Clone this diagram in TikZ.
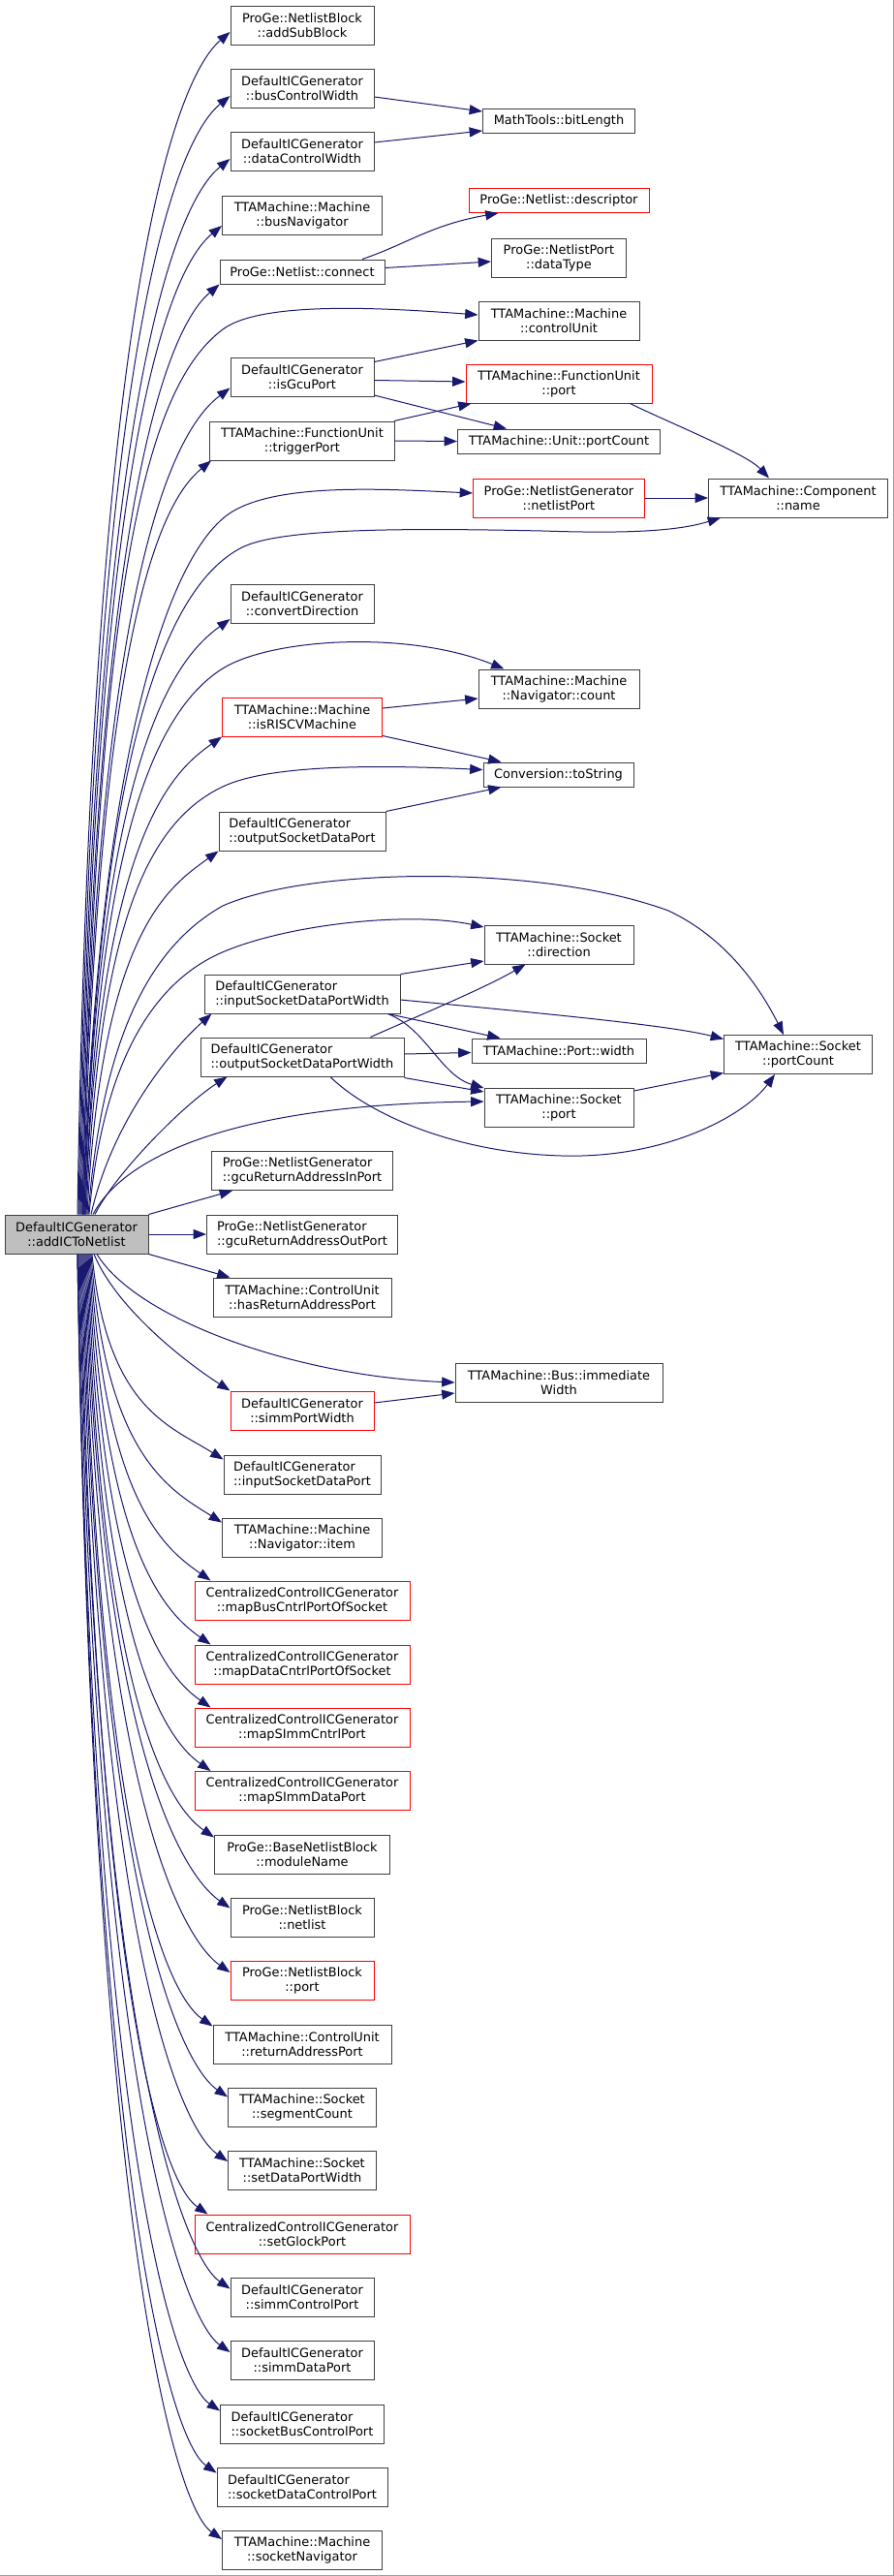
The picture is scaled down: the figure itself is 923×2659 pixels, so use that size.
\documentclass[tikz,border=0pt]{standalone}
\usepackage{fontspec}
\newfontfamily\dvfont{DejaVu Sans}
\usetikzlibrary{arrows.meta,calc}
\definecolor{edgeblue}{HTML}{191970}
\definecolor{boxgray}{HTML}{404040}
\definecolor{rootfill}{HTML}{BFBFBF}
\definecolor{framegray}{HTML}{A0A0A0}
\begin{document}
\begin{tikzpicture}[x=0.75pt,y=-0.75pt,
 fn/.style={draw=boxgray, fill=white, line width=0.75pt, inner sep=2pt, minimum height=30pt, align=center, font=\dvfont\fontsize{9.7}{11.25}\selectfont},
 one/.style={minimum height=18.75pt},
 lft/.style={align=left},
 trunc/.style={draw=red},
 bw/.style={minimum width=#1*0.75pt},
 ed/.style={draw=edgeblue, line width=0.75pt, -{Triangle[length=10pt,width=7.5pt]}},
]
\useasboundingbox (0,0) rectangle (923,2659);
\fill[white] (0,0) rectangle (923,2659);
\draw[framegray, line width=0.75pt] (922.5,0) -- (922.5,2658.5) -- (0,2658.5);

% root
\node[fn, fill=rootfill, bw=148] (root) at (79,1274) {DefaultICGenerator\\::addICToNetlist};
% middle column
\node[fn,bw=148] (asb) at (312,26) {ProGe::NetlistBlock\\::addSubBlock};
\node[fn,bw=148] (bcw) at (312,91) {DefaultICGenerator\\::busControlWidth};
\node[fn,bw=148] (dcw) at (312,156) {DefaultICGenerator\\::dataControlWidth};
\node[fn,bw=165] (bnav) at (312,222) {TTAMachine::Machine\\::busNavigator};
\node[fn,one,bw=170] (conn) at (312,280.5) {ProGe::Netlist::connect};
\node[fn,bw=148] (igp) at (312,389.5) {DefaultICGenerator\\::isGcuPort};
\node[fn,bw=191] (trig) at (312,455) {TTAMachine::FunctionUnit\\::triggerPort};
\node[fn,bw=148] (cdir) at (312,623) {DefaultICGenerator\\::convertDirection};
\node[fn,trunc,bw=165] (risc) at (312,740) {TTAMachine::Machine\\::isRISCVMachine};
\node[fn,lft,bw=172] (osdp) at (312,858) {DefaultICGenerator\\::outputSocketDataPort};
\node[fn,lft,bw=202] (isdpw) at (312,1026) {DefaultICGenerator\\::inputSocketDataPortWidth};
\node[fn,lft,bw=210] (osdpw) at (312,1091) {DefaultICGenerator\\::outputSocketDataPortWidth};
\node[fn,lft,bw=187] (grin) at (312,1208.5) {ProGe::NetlistGenerator\\::gcuReturnAddressInPort};
\node[fn,lft,bw=197] (grout) at (312,1274) {ProGe::NetlistGenerator\\::gcuReturnAddressOutPort};
\node[fn,bw=184] (hrap) at (312,1339) {TTAMachine::ControlUnit\\::hasReturnAddressPort};
\node[fn,trunc,bw=148] (spw) at (312,1456) {DefaultICGenerator\\::simmPortWidth};
\node[fn,lft,bw=162] (isdp) at (312,1522) {DefaultICGenerator\\::inputSocketDataPort};
\node[fn,bw=165] (nitem) at (312,1587) {TTAMachine::Machine\\::Navigator::item};
\node[fn,trunc,bw=222] (mbc) at (312,1652) {CentralizedControlICGenerator\\::mapBusCntrlPortOfSocket};
\node[fn,trunc,bw=222] (mdc) at (312,1718) {CentralizedControlICGenerator\\::mapDataCntrlPortOfSocket};
\node[fn,trunc,bw=222] (msc) at (312,1783) {CentralizedControlICGenerator\\::mapSImmCntrlPort};
\node[fn,trunc,bw=222] (msd) at (312,1848.5) {CentralizedControlICGenerator\\::mapSImmDataPort};
\node[fn,bw=181] (mname) at (312,1914) {ProGe::BaseNetlistBlock\\::moduleName};
\node[fn,bw=148] (nlist) at (312,1979) {ProGe::NetlistBlock\\::netlist};
\node[fn,trunc,bw=148] (nbport) at (312,2044.5) {ProGe::NetlistBlock\\::port};
\node[fn,bw=184] (rap) at (312,2110) {TTAMachine::ControlUnit\\::returnAddressPort};
\node[fn,bw=153] (segc) at (312,2175) {TTAMachine::Socket\\::segmentCount};
\node[fn,bw=153] (sdpw) at (312,2240.5) {TTAMachine::Socket\\::setDataPortWidth};
\node[fn,trunc,bw=222] (sgp) at (312,2306) {CentralizedControlICGenerator\\::setGlockPort};
\node[fn,bw=148] (scp) at (312,2371) {DefaultICGenerator\\::simmControlPort};
\node[fn,bw=148] (sdp) at (312,2436.5) {DefaultICGenerator\\::simmDataPort};
\node[fn,lft,bw=169] (sbcp) at (312,2502) {DefaultICGenerator\\::socketBusControlPort};
\node[fn,lft,bw=176] (sdcp) at (312,2567) {DefaultICGenerator\\::socketDataControlPort};
\node[fn,bw=165] (snav) at (312,2632.5) {TTAMachine::Machine\\::socketNavigator};
% right columns
\node[fn,one,bw=157] (bitl) at (577,124.5) {MathTools::bitLength};
\node[fn,one,trunc,bw=186] (desc) at (577,207) {ProGe::Netlist::descriptor};
\node[fn,bw=139] (dtype) at (577,266) {ProGe::NetlistPort\\::dataType};
\node[fn,bw=166] (cu) at (577,331) {TTAMachine::Machine\\::controlUnit};
\node[fn,trunc,bw=192] (fup) at (577,396) {TTAMachine::FunctionUnit\\::port};
\node[fn,one,bw=209] (upc) at (577,455.5) {TTAMachine::Unit::portCount};
\node[fn,trunc,bw=177] (nlp) at (577,514) {ProGe::NetlistGenerator\\::netlistPort};
\node[fn,bw=185] (cname) at (824,514) {TTAMachine::Component\\::name};
\node[fn,bw=166] (ncount) at (577,711) {TTAMachine::Machine\\::Navigator::count};
\node[fn,one,bw=155] (tostr) at (576.5,799.5) {Conversion::toString};
\node[fn,bw=154] (sdir) at (577,975) {TTAMachine::Socket\\::direction};
\node[fn,one,bw=180] (pwidth) at (577,1084.5) {TTAMachine::Port::width};
\node[fn,bw=154] (sport) at (577,1143) {TTAMachine::Socket\\::port};
\node[fn,bw=153] (spc) at (824,1088.5) {TTAMachine::Socket\\::portCount};
\node[fn,bw=214] (imw) at (577,1427) {TTAMachine::Bus::immediate\\Width};

% root edges, upward
\draw[ed] ($(root.north)+(1,0)$) .. controls (95,280) and (185,78) .. ($(asb.west)+(0,7)$);
\draw[ed] ($(root.north)+(2,0)$) .. controls (96,330) and (185,142) .. ($(bcw.west)+(0,8)$);
\draw[ed] ($(root.north)+(3,0)$) .. controls (97,390) and (185,206) .. ($(dcw.west)+(0,8)$);
\draw[ed] ($(root.north)+(4,0)$) .. controls (98,440) and (178,275) .. ($(bnav.west)+(0,11)$);
\draw[ed] ($(root.north)+(5,0)$) .. controls (99,490) and (178,335) .. (conn.south west);
\draw[ed] ($(root.north)+(6,0)$) .. controls (100,600) and (150,400) .. (230,340) .. controls (270,310) and (400,318) .. ($(cu.west)+(0,-6)$);
\draw[ed] ($(root.north)+(6,0)$) .. controls (100,570) and (185,440) .. ($(igp.west)+(0,11)$);
\draw[ed] ($(root.north)+(7,0)$) .. controls (101,630) and (170,515) .. ($(trig.south west)+(2,0)$);
\draw[ed] ($(root.north)+(7,0)$) .. controls (100,800) and (170,570) .. (240,528) .. controls (290,498) and (400,505) .. ($(nlp.west)+(0,-5)$);
\draw[ed] ($(root.north)+(8,0)$) .. controls (100,820) and (160,610) .. (250,565) .. controls (290,545) and (420,545) .. (560,548) .. controls (650,551) and (700,548) .. ($(cname.south west)+(13,0)$);
\draw[ed] ($(root.north)+(8,0)$) .. controls (102,760) and (188,675) .. ($(cdir.west)+(0,16)$);
\draw[ed] ($(root.north)+(9,0)$) .. controls (100,900) and (150,740) .. (230,690) .. controls (280,659) and (420,650) .. ($(ncount.north west)+(27,0)$);
\draw[ed] ($(root.north)+(9,0)$) .. controls (103,860) and (179,796) .. (risc.south west);
\draw[ed] ($(root.north)+(10,0)$) .. controls (102,960) and (150,850) .. (230,812) .. controls (280,788) and (400,790) .. ($(tostr.west)+(0,-5)$);
\draw[ed] ($(root.north)+(11,0)$) .. controls (105,960) and (175,915) .. (osdp.south west);
\draw[ed] ($(root.north)+(12,0)$) .. controls (105,1080) and (150,980) .. (230,935) .. controls (320,895) and (560,892) .. (690,940) .. controls (750,968) and (785,1020) .. ($(spc.north west)+(62,0)$);
\draw[ed] ($(root.north)+(13,0)$) .. controls (105,1110) and (150,1020) .. (225,985) .. controls (290,955) and (420,940) .. ($(sdir.west)+(0,-18)$);
\draw[ed] ($(root.north)+(15,0)$) .. controls (115,1160) and (175,1085) .. ($(isdpw.south west)+(8,0)$);
\draw[ed] ($(root.north)+(17,0)$) .. controls (130,1190) and (250,1140) .. ($(sport.west)+(0,-6)$);
\draw[ed] ($(root.north)+(19,0)$) .. controls (120,1210) and (190,1140) .. ($(osdpw.south west)+(28,0)$);
\draw[ed] (root.north east) -- ($(grin.south west)+(22,0)$);
\draw[ed] (root.east) -- (grout.west);
\draw[ed] (root.south east) -- ($(hrap.north west)+(18,0)$);
% root edges, downward
\draw[ed] ($(root.south)+(21,0)$) .. controls (140,1360) and (300,1420) .. (imw.west);
\draw[ed] ($(root.south)+(18,0)$) .. controls (120,1350) and (190,1405) .. (spw.north west);
\draw[ed] ($(root.south)+(16,0)$) .. controls (110,1454) and (176,1472) .. ($(isdp.north west)+(0,5)$);
\draw[ed] ($(root.south)+(15,0)$) .. controls (109,1502) and (174,1537) .. ($(nitem.north west)+(0,5)$);
\draw[ed] ($(root.south)+(14,0)$) .. controls (108,1548) and (168,1597) .. ($(mbc.north west)+(17,0)$);
\draw[ed] ($(root.south)+(13,0)$) .. controls (107,1597) and (168,1663) .. ($(mdc.north west)+(17,0)$);
\draw[ed] ($(root.south)+(12,0)$) .. controls (106,1646) and (168,1728) .. ($(msc.north west)+(17,0)$);
\draw[ed] ($(root.south)+(11,0)$) .. controls (105,1694) and (168,1793) .. ($(msd.north west)+(17,0)$);
\draw[ed] ($(root.south)+(10,0)$) .. controls (104,1746) and (171,1862) .. ($(mname.north west)+(0,3)$);
\draw[ed] ($(root.south)+(9,0)$) .. controls (103,1801) and (188,1935) .. ($(nlist.north west)+(0,11)$);
\draw[ed] ($(root.south)+(8,0)$) .. controls (102,1850) and (188,2001) .. ($(nbport.north west)+(0,12)$);
\draw[ed] ($(root.south)+(7,0)$) .. controls (101,1892) and (170,2057) .. ($(rap.north west)+(0,2)$);
\draw[ed] ($(root.south)+(6,0)$) .. controls (100,1947) and (185,2130) .. ($(segc.north west)+(0,10)$);
\draw[ed] ($(root.south)+(5,0)$) .. controls (99,1997) and (185,2196) .. ($(sdpw.north west)+(0,11)$);
\draw[ed] ($(root.south)+(4,0)$) .. controls (98,2038) and (165,2251) .. ($(sgp.north west)+(14,0)$);
\draw[ed] ($(root.south)+(3,0)$) .. controls (97,2096) and (188,2328) .. ($(scp.north west)+(0,12)$);
\draw[ed] ($(root.south)+(2,0)$) .. controls (96,2145) and (188,2393) .. ($(sdp.north west)+(0,12)$);
\draw[ed] ($(root.south)+(1,0)$) .. controls (95,2190) and (177,2454) .. ($(sbcp.north west)+(0,7)$);
\draw[ed] ($(root.south)+(1,0)$) .. controls (95,2238) and (174,2518) .. ($(sdcp.north west)+(0,6)$);
\draw[ed] ($(root.south)+(1,0)$) .. controls (95,2289) and (179,2586) .. ($(snav.north west)+(0,9)$);

% secondary edges
\draw[ed] ($(bcw.east)+(0,9)$) -- ($(bitl.west)+(0,-9.5)$);
\draw[ed] ($(dcw.east)+(0,-9)$) -- ($(bitl.west)+(0,10.5)$);
\draw[ed] ($(conn.north)+(62,0)$) .. controls (420,252) and (445,232) .. ($(desc.south west)+(31,0)$);
\draw[ed] ($(conn.east)+(0,-4)$) -- ($(dtype.west)+(0,4)$);
\draw[ed] ($(igp.east)+(0,-16)$) -- (cu.south west);
\draw[ed] ($(igp.east)+(0,3)$) -- ($(fup.west)+(0,-2)$);
\draw[ed] ($(igp.south east)+(0,-2)$) -- ($(upc.north west)+(51,0)$);
\draw[ed] ($(trig.north east)+(-1,0)$) -- ($(fup.south west)+(6,0)$);
\draw[ed] (trig.east) -- (upc.west);
\draw[ed] ($(fup.south east)+(-23,0)$) .. controls (690,436) and (770,468) .. ($(cname.north west)+(63,0)$);
\draw[ed] (nlp.east) -- (cname.west);
\draw[ed] ($(risc.east)+(0,-9)$) -- ($(ncount.west)+(0,10)$);
\draw[ed] ($(risc.south east)+(0,-1)$) -- ($(tostr.north west)+(19,0)$);
\draw[ed] (osdp.north east) -- ($(tostr.south west)+(19,0)$);
\draw[ed] (isdpw.north east) -- ($(sdir.west)+(0,17)$);
\draw[ed] ($(isdpw.east)+(0,6)$) .. controls (550,1045) and (690,1058) .. ($(spc.west)+(0,-16)$);
\draw[ed] ($(isdpw.south east)+(-13,0)$) -- ($(pwidth.north west)+(30,0)$);
\draw[ed] ($(isdpw.south east)+(-13,0)$) .. controls (440,1062) and (455,1110) .. ($(sport.west)+(0,-20)$);
\draw[ed] ($(osdpw.north east)+(-35,0)$) .. controls (440,1045) and (500,1020) .. ($(sdir.south west)+(43,0)$);
\draw[ed] ($(osdpw.east)+(0,-3)$) -- ($(pwidth.west)+(0,2)$);
\draw[ed] ($(osdpw.south east)+(0,1)$) -- ($(sport.west)+(0,-16)$);
\draw[ed] ($(osdpw.south)+(29,0)$) .. controls (380,1150) and (470,1190) .. (580,1193) .. controls (690,1196) and (770,1150) .. ($(spc.south west)+(53,0)$);
\draw[ed] ($(sport.east)+(0,-17)$) -- ($(spc.west)+(0,19)$);
\draw[ed] ($(spw.east)+(0,-8)$) -- ($(imw.west)+(0,11)$);
\end{tikzpicture}
\end{document}
